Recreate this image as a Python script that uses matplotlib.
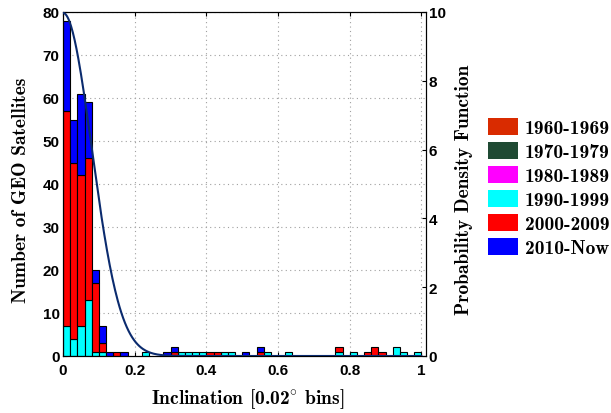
import numpy as np
import matplotlib
matplotlib.use("Agg")
import matplotlib.pyplot as plt
from matplotlib.patches import Patch
from matplotlib.font_manager import FontProperties

plt.rcParams['mathtext.fontset'] = 'cm'

# ---- data ----
bin_width = 0.02
n_bins = 50
bin_left = np.arange(n_bins) * bin_width

decades = ["1960-1969", "1970-1979", "1980-1989", "1990-1999", "2000-2009", "2010-Now"]
colors = ["#D92B00", "#1F4A33", "#FF00FF", "#00FFFF", "#FF0000", "#0000FF"]

# counts per bin (bin index -> count)
counts_1960s = {}
counts_1970s = {}
counts_1980s = {}
counts_1990s = {0: 7, 1: 4, 2: 7, 3: 13, 4: 1, 5: 1, 11: 1, 16: 1, 17: 1, 18: 1, 19: 1,
                22: 1, 23: 1, 28: 1, 31: 1, 38: 1, 40: 1, 46: 2, 47: 1, 49: 1}
counts_2000s = {0: 50, 1: 41, 2: 35, 3: 33, 4: 16, 5: 2, 7: 1, 15: 1, 20: 1, 21: 1,
                27: 1, 38: 1, 42: 1, 43: 2, 44: 1}
counts_2010s = {0: 21, 1: 10, 2: 19, 3: 13, 4: 3, 5: 4, 6: 1, 8: 1, 14: 1, 15: 1,
                25: 1, 27: 1}

series = [counts_1960s, counts_1970s, counts_1980s, counts_1990s, counts_2000s, counts_2010s]

# fitted half-normal PDF (right axis), scale parameter
pdf_sigma = 0.08
pdf_color = "#0B2B6E"

x_ticks = [0, 0.2, 0.4, 0.6, 0.8, 1]
x_ticklabels = ["0", "0.2", "0.4", "0.6", "0.8", "1"]

# ---- figure ----
fig = plt.figure(figsize=(6.11, 4.14), dpi=100)
ax = fig.add_axes([63/611, 57/414, 363/611, 344/414])

bottom = np.zeros(n_bins)
for cnt, col in zip(series, colors):
    h = np.zeros(n_bins)
    for k, v in cnt.items():
        h[k] = v
    m = h > 0
    if m.any():
        ax.bar(bin_left[m], h[m], width=bin_width, bottom=bottom[m], align='edge',
               color=col, edgecolor='black', linewidth=0.8, zorder=2)
    bottom += h

ax.set_xlim(0, 1.013)
ax.set_ylim(0, 80)
ax.set_yticks(np.arange(0, 81, 10))
ax.set_xticks(x_ticks)
ax.set_xticklabels(x_ticklabels)
ax.grid(True, linestyle=(0, (1, 3)), color='#A0A0A0', linewidth=0.8, zorder=0)
ax.set_axisbelow(True)

tick_fp = FontProperties(family='Liberation Sans', weight='bold', size=11)
for lab in ax.get_xticklabels() + ax.get_yticklabels():
    lab.set_fontproperties(tick_fp)
ax.tick_params(direction='in', length=3, width=0.8, top=True)
ax.tick_params(axis='x', pad=5)
ax.tick_params(axis='y', pad=2.5)

label_font = dict(family=['cmb10', 'DejaVu Serif'], size=14)
ax.set_xlabel(r'Inclination [0.02$^{\circ}$ bins]', **label_font)
ax.xaxis.set_label_coords(0.508, -0.088)
ax.set_ylabel('Number of GEO Satellites', **label_font)
ax.yaxis.set_label_coords(-0.092, 0.485)

ax2 = ax.twinx()
ax2.set_ylim(0, 10)
ax2.set_yticks(np.arange(0, 11, 2))
for lab in ax2.get_yticklabels():
    lab.set_fontproperties(tick_fp)
ax2.tick_params(direction='in', length=3, width=0.8, pad=2)
xs = np.linspace(0, 1.0, 400)
pdf = 2.0 / (pdf_sigma * np.sqrt(2 * np.pi)) * np.exp(-xs**2 / (2 * pdf_sigma**2))
ax2.plot(xs, pdf, color=pdf_color, linewidth=1.5, zorder=3)
ax2.set_ylabel('Probability Density Function', **label_font)
ax2.yaxis.set_label_coords(1.08, 0.485)

handles = [Patch(facecolor=c, edgecolor='none') for c in colors]
fig.legend(handles, decades, loc='upper left', bbox_to_anchor=(488/611, 1 - 119/414),
           frameon=False, borderpad=0, borderaxespad=0, handlelength=1.55,
           handleheight=0.98, labelspacing=0.24, handletextpad=0.36,
           prop=FontProperties(family=['cmb10', 'DejaVu Serif'], size=14))

fig.savefig('out.png', dpi=100)
